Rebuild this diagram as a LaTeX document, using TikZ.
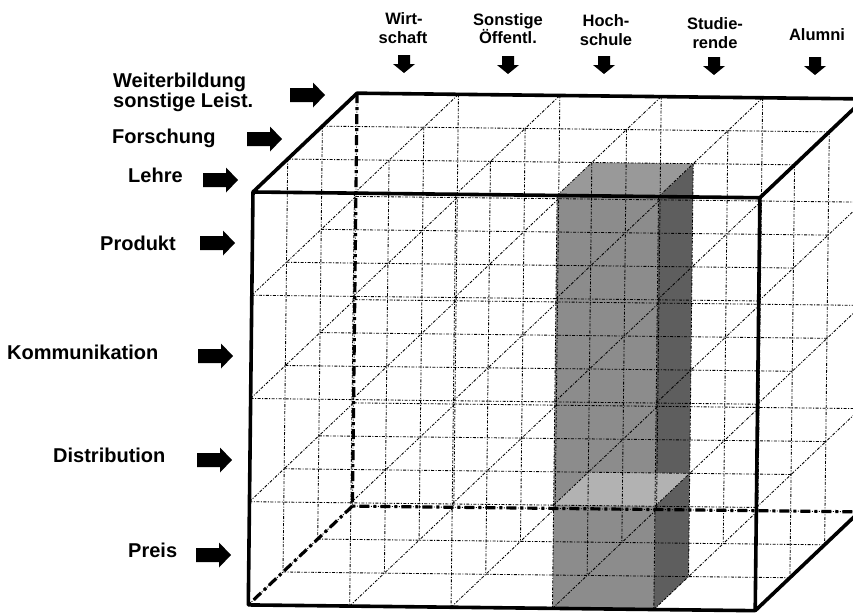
\documentclass[tikz,border=0pt]{standalone}
\usepackage{fontspec}
\setmainfont{Liberation Sans}
\definecolor{barfront}{gray}{0.55}
\definecolor{barside}{gray}{0.37}
\definecolor{bartop}{gray}{0.60}
\definecolor{barlight}{gray}{0.70}
\begin{document}
\begin{tikzpicture}[x=1pt,y=-1pt,
  grid/.style={line width=0.85pt, black, dash pattern=on 3pt off 1.5pt on 1pt off 1.5pt},
  edge/.style={line width=3.6pt, line cap=round, line join=round},
  hidden/.style={line width=3.2pt, dash pattern=on 10pt off 4pt on 3pt off 4pt},
  lbl/.style={font=\fontsize{20}{20}\selectfont\bfseries, inner sep=0pt, anchor=base west},
  toplbl/.style={font=\fontsize{16.5}{19}\selectfont\bfseries, inner sep=0pt, anchor=base},
  rarrow/.pic={\fill (0,-7) -- (23,-7) -- (23,-12.5) -- (35,0) -- (23,12.5) -- (23,7) -- (0,7) -- cycle;},
  darrow/.pic={\fill (-6,0) -- (6,0) -- (6,9) -- (11,9) -- (0,18) -- (-11,9) -- (-6,9) -- cycle;}
]
\useasboundingbox (0,0) rectangle (853,614);
\clip (0,0) rectangle (853,614);

\begin{scope}[rotate around={-0.65:(253,192)}]
  % lattice points p<i><j><k>: column i, row j, depth k
  \foreach \i in {0,...,5}{\foreach \j in {0,...,4}{\foreach \k in {0,...,3}{
    \coordinate (p\i\j\k) at ({253+101.4*\i+34.33*\k},{192+103.25*\j-33.33*\k});
  }}}
  % shaded bar (Hochschule column, front layer)
  \fill[barfront] (p300) -- (p400) -- (p440) -- (p340) -- cycle;
  \fill[barside] (p400) -- (p401) -- (p441) -- (p440) -- cycle;
  \fill[bartop] (p300) -- (p301) -- (p401) -- (p400) -- cycle;
  \fill[barlight] (p330) -- (p331) -- (p431) -- (p430) -- cycle;
  % dotted lattice
  \foreach \k in {0,...,3}{\foreach \j in {0,...,4}{\draw[grid] (p0\j\k) -- (p5\j\k);}}
  \foreach \k in {0,...,3}{\foreach \i in {0,...,5}{\draw[grid] (p\i0\k) -- (p\i4\k);}}
  \foreach \i in {0,...,5}{\foreach \j in {0,...,4}{\draw[grid] (p\i\j0) -- (p\i\j3);}}
  % hidden edges
  \draw[hidden] (p003) -- (p043) -- (p543);
  \draw[hidden] (p043) -- (p040);
  % visible edges
  \draw[edge] (p000) -- (p500) -- (p540) -- (p040) -- cycle;
  \draw[edge] (p000) -- (p003) -- (p503) -- (p500);
  \draw[edge] (p540) -- (p543) -- (p503);
\end{scope}

% left labels
\node[lbl, anchor=north west, align=left, font=\fontsize{20}{16.5}\selectfont\bfseries] (wb) at (113,72.6) {Weiterbildung\\sonstige Leist.};
\node[lbl] (fo) at (112,143) {Forschung};
\node[lbl] (le) at (128,182) {Lehre};
\node[lbl] (pr) at (100,250) {Produkt};
\node[lbl] (ko) at (7,359) {Kommunikation};
\node[lbl] (di) at (53,462) {Distribution};
\node[lbl] (pe) at (128,557) {Preis};
\pic (awb) at (290,95) {rarrow};
\pic (afo) at (247,139) {rarrow};
\pic (ale) at (203,180) {rarrow};
\pic (apr) at (200,243) {rarrow};
\pic (ako) at (198,356) {rarrow};
\pic (adi) at (197,460) {rarrow};
\pic (ape) at (196,555) {rarrow};

% top labels
\node[toplbl] (wi1) at (404,24) {Wirt-};
\node[toplbl] (wi2) at (403,43) {schaft};
\node[toplbl] (so1) at (508,25) {Sonstige};
\node[toplbl] (so2) at (508,43) {Öffentl.};
\node[toplbl] (ho1) at (606,26) {Hoch-};
\node[toplbl] (ho2) at (606,45) {schule};
\node[toplbl] (st1) at (715,29) {Studie-};
\node[toplbl] (st2) at (715,48) {rende};
\node[toplbl] (al) at (817,40) {Alumni};
\pic (dwi) at (404,55) {darrow};
\pic (dso) at (508,56) {darrow};
\pic (dho) at (604,56) {darrow};
\pic (dst) at (714,57) {darrow};
\pic (dal) at (815,57) {darrow};
\end{tikzpicture}
\end{document}
